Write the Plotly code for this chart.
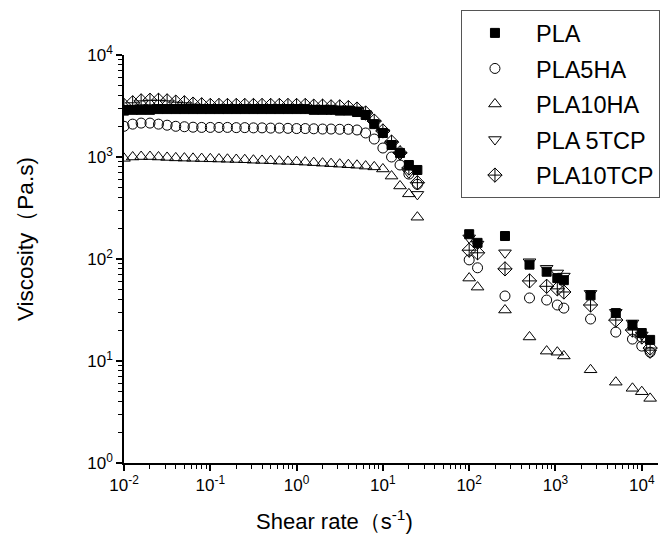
import plotly.graph_objects as go

# shear rates (s^-1)
shear_low = [0.01, 0.0126, 0.0158, 0.02, 0.0251, 0.0316, 0.0398, 0.0501, 0.0631, 0.0794,
             0.1, 0.126, 0.158, 0.2, 0.251, 0.316, 0.398, 0.501, 0.631, 0.794,
             1, 1.26, 1.58, 2, 2.51, 3.16, 3.98, 5.01, 6.31, 7.94,
             10, 12.6, 15.8, 20, 25.1]
shear_high = [100, 125, 260, 500, 790, 1050, 1250, 2550, 5000, 7800, 10000, 12500]

# viscosity (Pa.s)
pla_low = [2850, 2900, 2900, 2900, 2950, 2950, 2950, 2950, 2950, 2950,
           2950, 2950, 2950, 2950, 2950, 2950, 2950, 2950, 2950, 2950,
           2950, 2950, 2900, 2900, 2900, 2850, 2850, 2760, 2580, 2100,
           1720, 1310, 1096, 835, 746]
pla_high = [175, 144, 168, 88, 75, 65, 62, 44, 29.5, 22.5, 18.8, 16.1]

pla5ha_low = [2000, 2100, 2150, 2150, 2100, 2050, 2000, 1980, 1960, 1950,
              1950, 1950, 1950, 1940, 1940, 1930, 1930, 1920, 1920, 1910,
              1900, 1900, 1890, 1880, 1880, 1870, 1870, 1840, 1720, 1500,
              1225, 1000, 835, 680, 540]
pla5ha_high = [98, 82, 43.4, 41.5, 39.6, 35.4, 33, 25.8, 19.2, 16.4, 14, 12.2]

pla10ha_low = [970, 1000, 1010, 1010, 1000, 990, 980, 975, 970, 965,
               960, 955, 950, 945, 940, 930, 925, 920, 910, 905,
               900, 890, 880, 870, 860, 850, 840, 830, 814, 800,
               763, 650, 520, 435, 257]
pla10ha_high = [65, 53, 31.6, 17.2, 12.5, 12.2, 11.2, 8.2, 6.2, 5.4, 5.0, 4.3]

pla5tcp_low = [2950, 3000, 3050, 3050, 3050, 3050, 3050, 3050, 3050, 3050,
               3050, 3050, 3050, 3050, 3050, 3050, 3050, 3050, 3050, 3050,
               3050, 3000, 3000, 3000, 2950, 2950, 2950, 2900, 2650, 2150,
               1750, 1350, 1050, 700, 430]
pla5tcp_high = [161, 140, 115, 94, 81, 73, 68, 46, 30, 23.6, 18, 12]

pla10tcp_low = [3200, 3400, 3550, 3600, 3600, 3550, 3450, 3400, 3300, 3250,
                3200, 3200, 3200, 3200, 3200, 3200, 3200, 3200, 3200, 3200,
                3200, 3200, 3150, 3150, 3100, 3100, 3050, 2950, 2700, 2250,
                1800, 1400, 1100, 780, 560]
pla10tcp_high = [122, 115, 80, 61, 54, 51, 47.5, 35.4, 25.2, 20.1, 17.2, 13.4]

series_names = ["PLA", "PLA5HA", "PLA10HA", "PLA 5TCP", "PLA10TCP"]
x_tick_vals = [1e-2, 1e-1, 1e0, 1e1, 1e2, 1e3, 1e4]
x_tick_text = ["10<sup>-2</sup>", "10<sup>-1</sup>", "10<sup>0</sup>", "10<sup>1</sup>",
               "10<sup>2</sup>", "10<sup>3</sup>", "10<sup>4</sup>"]
y_tick_vals = [1e0, 1e1, 1e2, 1e3, 1e4]
y_tick_text = ["10<sup>0</sup>", "10<sup>1</sup>", "10<sup>2</sup>", "10<sup>3</sup>", "10<sup>4</sup>"]
minor_digits = [2, 3, 4, 5, 6, 7, 8, 9]
x_decades = [1e-2, 1e-1, 1e0, 1e1, 1e2, 1e3]
y_decades = [1e0, 1e1, 1e2, 1e3]
x_minor_vals = [d * m for d in x_decades for m in minor_digits]
y_minor_vals = [d * m for d in y_decades for m in minor_digits]

series_y = [pla_low + pla_high, pla5ha_low + pla5ha_high, pla10ha_low + pla10ha_high,
            pla5tcp_low + pla5tcp_high, pla10tcp_low + pla10tcp_high]
symbols = ["square", "circle-open", "triangle-up-open", "triangle-down-open", "diamond-cross-open"]
sizes = [9, 10, 11, 11, 11]

x_all = shear_low + shear_high

fig = go.Figure()
for name, ys, sym, sz in zip(series_names, series_y, symbols, sizes):
    fig.add_trace(go.Scatter(
        x=x_all, y=ys, name=name, mode="markers", legendgroup=name,
        marker=dict(symbol=sym, size=sz, color="black",
                    line=dict(color="black", width=1)),
    ))

# the page adds an 8px body margin, so the figure is 8px smaller and margins shifted
font_family = "Liberation Sans, Arial, sans-serif"
fig.update_layout(
    width=663, height=531,
    margin=dict(l=116, r=13, t=47, b=76, autoexpand=False),
    paper_bgcolor="white", plot_bgcolor="white",
    font=dict(family=font_family, color="black", size=17),
    showlegend=True,
    legend=dict(x=0.631, y=1.11, xanchor="left", yanchor="top",
                bordercolor="#555555", borderwidth=1, bgcolor="white",
                font=dict(size=23.5, family=font_family),
                tracegroupgap=2, itemwidth=72, indentation=-8),
)
fig.update_xaxes(
    type="log", range=[-2, 4.188], showline=True, linecolor="black", linewidth=1.5,
    showgrid=False, zeroline=False, ticks="outside", ticklen=6, tickwidth=1.5,
    tickcolor="black", tickmode="array", tickvals=x_tick_vals, ticktext=x_tick_text,
    tickfont=dict(size=17),
    minor=dict(ticks="outside", ticklen=4, tickwidth=1, tickcolor="black",
               tickmode="array", tickvals=x_minor_vals, showgrid=False),
)
fig.update_yaxes(
    type="log", range=[0, 4], showline=True, linecolor="black", linewidth=1.5,
    showgrid=False, zeroline=False, ticks="outside", ticklen=6, tickwidth=1.5,
    tickcolor="black", tickmode="array", tickvals=y_tick_vals, ticktext=y_tick_text,
    tickfont=dict(size=17),
    minor=dict(ticks="outside", ticklen=4, tickwidth=1, tickcolor="black",
               tickmode="array", tickvals=y_minor_vals, showgrid=False),
)
fig.add_annotation(text="Shear rate（s<sup>-1</sup>)", xref="paper", yref="paper",
                   x=(334 - 124) / 534, y=-(520 - 463) / 408, showarrow=False,
                   xanchor="center", yanchor="middle", font=dict(size=22, family=font_family))
fig.add_annotation(text="Viscosity（Pa.s)", xref="paper", yref="paper",
                   x=-(124 - 26) / 534, y=(463 - 239) / 408, showarrow=False, textangle=-90,
                   xanchor="center", yanchor="middle", font=dict(size=22.5, family=font_family))

fig.write_html("out.html")
